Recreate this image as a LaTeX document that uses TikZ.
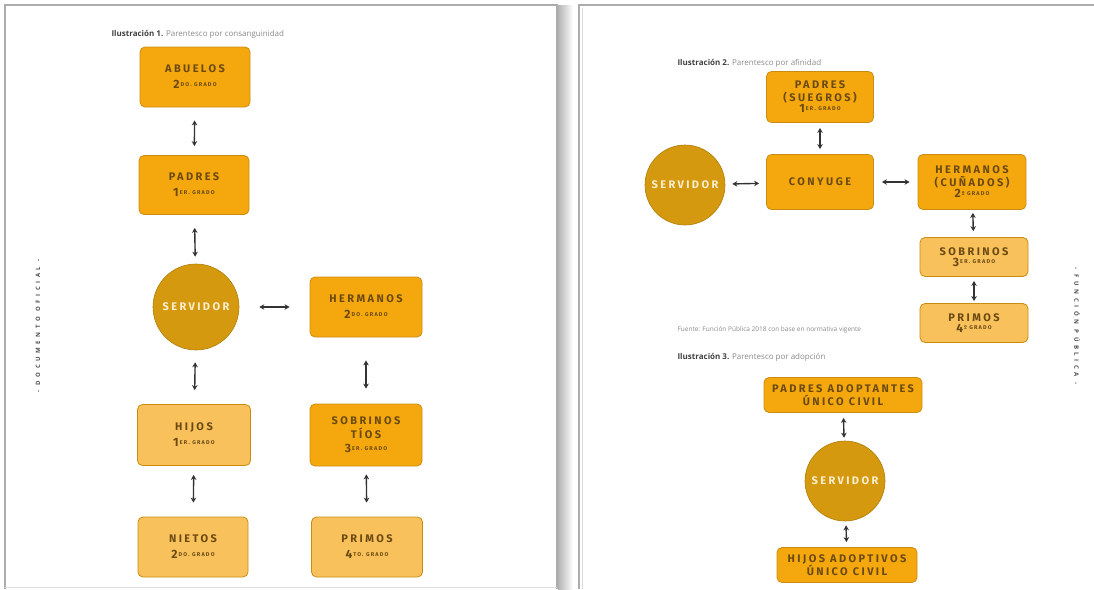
\documentclass[tikz,border=0pt]{standalone}
\usepackage{fontspec}
\setmainfont{Open Sans}
\newfontfamily\boxfont{Fira Sans}[LetterSpace=22]
\newfontfamily\sidefont{Open Sans}[LetterSpace=60]
\usetikzlibrary{arrows.meta}
\definecolor{boxA}{HTML}{F5A80E}
\definecolor{boxB}{HTML}{F8C15C}
\definecolor{boxEdge}{HTML}{C98C10}
\definecolor{circ}{HTML}{D4990F}
\definecolor{circEdge}{HTML}{B07D0A}
\definecolor{txt}{HTML}{6B4A12}
\definecolor{circTxt}{HTML}{FBEFD0}
\definecolor{capgray}{HTML}{8A8A8A}
\newcommand\gr[2]{{\fontsize{12}{12}\selectfont #1}\kern1pt\raisebox{2.5pt}{\fontsize{5.5}{5.5}\selectfont #2 GRADO}}
\tikzset{
  box/.style={rectangle, rounded corners=5pt, draw=boxEdge, line width=0.8pt, text=txt,
    font=\boxfont\bfseries\fontsize{11}{13}\selectfont, align=center, inner sep=0pt},
  boxa/.style={box, fill=boxA},
  boxb/.style={box, fill=boxB},
  srv/.style={circle, fill=circ, draw=circEdge, line width=0.6pt, text=circTxt,
    font=\boxfont\bfseries\fontsize{11}{13}\selectfont, inner sep=0pt},
  link/.style={{Stealth[length=5pt,width=5.5pt]}-{Stealth[length=5pt,width=5.5pt]}, line width=1.4pt, draw=black!80},
  captext/.style={anchor=base west, font=\fontsize{8}{9}\selectfont, text=capgray},
  sidetext/.style={font=\sidefont\bfseries\fontsize{6}{6}\selectfont, text=black!70},
  pageframe/.style={draw=gray!65, line width=1.5pt}
}
\begin{document}
\begin{tikzpicture}[x=1pt,y=-1pt]
\useasboundingbox (0,0) rectangle (1094,589);
% pages
\shade[left color=gray!60, right color=white] (558,5) rectangle (573,589);
\draw[pageframe] (5,589) -- (5,5) -- (557,5) -- (557,589);
\draw[gray!25, line width=0.8pt] (5,587) -- (557,587);
\draw[pageframe] (579,589) -- (579,5) -- (1094,5);
\draw[gray!30, line width=0.6pt] (582,589) -- (582,8);
% side texts
\node[sidetext, rotate=90] (sideL) at (38,326) {- DOCUMENTO OFICIAL -};
\node[sidetext, rotate=-90] (sideR) at (1077,326) {- FUNCIÓN PÚBLICA -};
% ---------- Ilustracion 1
\node[captext] (cap1) at (108,36) {\textcolor{black!75}{\textbf{Ilustración 1.}} Parentesco por consanguinidad};
\node[boxa, minimum width=110pt, minimum height=60pt] (abuelos) at (195,77) {ABUELOS\\[3pt]\gr{2}{DO.}};
\node[boxa, minimum width=110pt, minimum height=59pt] (padres) at (194,185) {PADRES\\[3pt]\gr{1}{ER.}};
\node[srv, minimum size=86pt] (srv1) at (196,307) {SERVIDOR};
\node[boxa, minimum width=112pt, minimum height=60pt] (hermanos) at (366,307) {HERMANOS\\[3pt]\gr{2}{DO.}};
\node[boxb, minimum width=113pt, minimum height=61pt] (hijos) at (194,435) {HIJOS\\[3pt]\gr{1}{ER.}};
\node[boxa, minimum width=112pt, minimum height=62pt] (sobrinos) at (366,435) {SOBRINOS\\[1pt]TÍOS\\[1pt]\gr{3}{ER.}};
\node[boxb, minimum width=110pt, minimum height=60pt] (nietos) at (193,547) {NIETOS\\[3pt]\gr{2}{DO.}};
\node[boxb, minimum width=111pt, minimum height=60pt] (primos) at (367,547) {PRIMOS\\[3pt]\gr{4}{TO.}};
\draw[link, shorten <=13pt, shorten >=9pt] (abuelos) -- (padres);
\draw[link, shorten <=13pt, shorten >=7pt] (padres) -- (srv1);
\draw[link, shorten <=20pt, shorten >=20pt] (srv1) -- (hermanos);
\draw[link, shorten <=12pt, shorten >=14pt] (srv1) -- (hijos);
\draw[link, shorten <=23pt, shorten >=15pt] (hermanos) -- (sobrinos);
\draw[link, shorten <=9pt, shorten >=14pt] (hijos) -- (nietos);
\draw[link, shorten <=8pt, shorten >=14pt] (sobrinos) -- (primos);
% ---------- Ilustracion 2
\node[captext] (cap2) at (674,65) {\textcolor{black!75}{\textbf{Ilustración 2.}} Parentesco por afinidad};
\node[boxa, minimum width=107pt, minimum height=51pt] (suegros) at (820,97) {PADRES\\(SUEGROS)\\[-2pt]\gr{1}{ER.}};
\node[srv, minimum size=80pt] (srv2) at (685,185) {SERVIDOR};
\node[boxa, minimum width=107pt, minimum height=55pt] (conyuge) at (820,182) {CONYUGE};
\node[boxa, minimum width=108pt, minimum height=55pt] (cunados) at (972,182) {HERMANOS\\(CUÑADOS)\\[-2pt]\gr{2}{º}};
\node[boxb, minimum width=108pt, minimum height=39pt] (sobR) at (974,257) {SOBRINOS\\[-2pt]\gr{3}{ER.}};
\node[boxb, minimum width=108pt, minimum height=39pt] (primR) at (974,323) {PRIMOS\\[-2pt]\gr{4}{º}};
\draw[link, shorten <=5pt, shorten >=5pt] (suegros) -- (conyuge);
\draw[link, shorten <=7pt, shorten >=7pt] (srv2) -- (conyuge);
\draw[link, shorten <=8pt, shorten >=8pt] (conyuge) -- (cunados);
\draw[link, shorten <=3pt, shorten >=6pt] (cunados) -- (sobR);
\draw[link, shorten <=4pt, shorten >=2pt] (sobR) -- (primR);
\node[captext, font=\fontsize{6.5}{7}\selectfont] (fuente) at (674,331) {Fuente: Función Pública 2018 con base en normativa vigente};
% ---------- Ilustracion 3
\node[captext] (cap3) at (674,359) {\textcolor{black!75}{\textbf{Ilustración 3.}} Parentesco por adopción};
\node[boxa, minimum width=158pt, minimum height=35pt] (adopt) at (843,395) {PADRES ADOPTANTES\\ÚNICO CIVIL};
\node[srv, minimum size=80pt] (srv3) at (845,481) {SERVIDOR};
\node[boxa, minimum width=140pt, minimum height=35pt] (hijosA) at (847,565) {HIJOS ADOPTIVOS\\ÚNICO CIVIL};
\draw[link, shorten <=5pt, shorten >=3pt] (adopt) -- (srv3);
\draw[link, shorten <=4pt, shorten >=5pt] (srv3) -- (hijosA);
\end{tikzpicture}
\end{document}
